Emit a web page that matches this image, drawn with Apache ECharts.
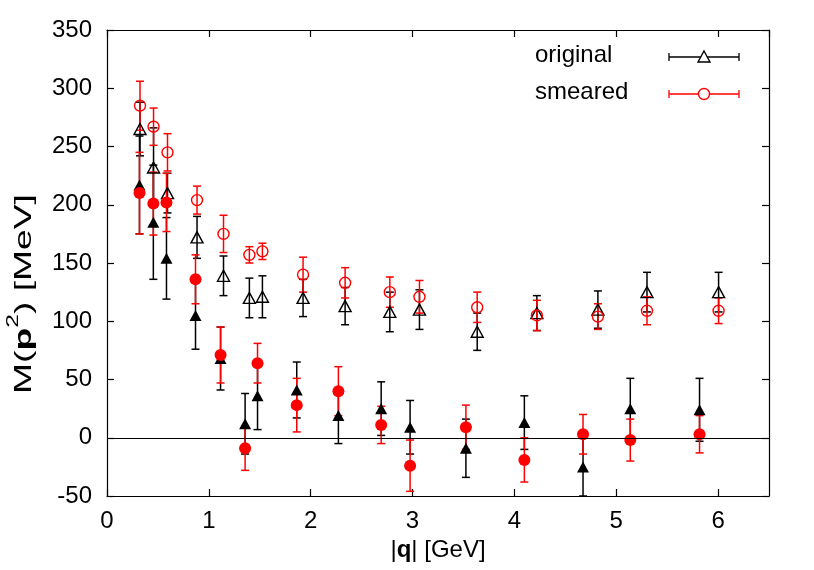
<!DOCTYPE html>
<html>
<head>
<meta charset="utf-8">
<script src="https://cdn.jsdelivr.net/npm/echarts@6/dist/echarts.min.js"></script>
<style>html,body{margin:0;padding:0;background:#fff}#c{width:814px;height:570px}</style>
</head>
<body>
<div id="c"></div>
<script>
// |q| positions (GeV)
const qOpen   = [0.324, 0.457, 0.594, 0.884, 1.144, 1.398, 1.526, 1.925, 2.338, 2.777, 3.068, 3.635, 4.221, 4.820, 5.302, 6.005];
const qFilled = [0.319, 0.455, 0.584, 0.869, 1.115, 1.356, 1.478, 1.863, 2.272, 2.692, 2.976, 3.524, 4.098, 4.674, 5.138, 5.818];
// original (black triangles)
const originalOpen      = [265, 232, 210, 172, 139, 120, 121, 120, 113, 108, 110, 91, 107, 110, 125, 125];
const originalOpenErr   = [23, 34, 17, 18, 17, 17, 18, 16, 16, 17, 17, 16, 15, 16, 17, 17];
const originalFilled    = [217, 185, 154, 105, 68, 12, 36, 41, 19, 25, 9, -9, 13, -25, 25, 24];
const originalFilledErr = [42, 49, 35, 29, 27, 26, 29, 24, 24, 23, 23, 25, 23, 25, 26, 27];
// smeared (red circles)
const smearedOpen      = [285, 267, 245, 204, 175, 157, 160, 140, 133, 125, 121, 112, 105, 104, 109, 109];
const smearedOpenErr   = [21, 16, 16, 12, 16, 7, 7, 15, 13, 13, 14, 13, 13, 11, 12, 11];
const smearedFilled    = [210, 201, 202, 136, 71, -9, 64, 28, 40, 11, -24, 9, -19, 3, -2, 3];
const smearedFilledErr = [35, 27, 25, 21, 24, 19, 17, 23, 21, 16, 22, 19, 19, 17, 18, 16];
// axes
const xTicks = [0, 1, 2, 3, 4, 5, 6];
const yTicks = [-50, 0, 50, 100, 150, 200, 250, 300, 350];
const legendNames = ['original', 'smeared'];

const BLACK = '#000000', RED = '#ff0000';
const FONT = 'Liberation Sans, Arial, Helvetica, sans-serif';

function zip3(q, v, e) { return q.map((x, i) => [x, v[i], e[i]]); }

function errRender(color) {
  return function (params, api) {
    const x = api.value(0), y = api.value(1), e = api.value(2);
    const pt = api.coord([x, y + e]);
    const pb = api.coord([x, y - e]);
    const w = 4;
    const st = { stroke: color, lineWidth: 1.5 };
    return {
      type: 'group',
      children: [
        { type: 'line', shape: { x1: pt[0], y1: pt[1], x2: pb[0], y2: pb[1] }, style: st },
        { type: 'line', shape: { x1: pt[0] - w, y1: pt[1], x2: pt[0] + w, y2: pt[1] }, style: st },
        { type: 'line', shape: { x1: pb[0] - w, y1: pb[1], x2: pb[0] + w, y2: pb[1] }, style: st }
      ]
    };
  };
}

function errSeries(name, q, v, e, color) {
  return {
    type: 'custom', name: name, renderItem: errRender(color), clip: true,
    data: zip3(q, v, e), encode: { x: 0, y: 1 }, silent: true
  };
}
function symSeries(name, q, v, symbol, size, color, open) {
  return {
    type: 'scatter', name: name, symbol: symbol, symbolSize: size,
    data: q.map((x, i) => [x, v[i]]), silent: true,
    itemStyle: open ? { color: 'rgba(0,0,0,0)', borderColor: color, borderWidth: 1.4, opacity: 1 }
                    : { color: color, borderWidth: 0, opacity: 1 }
  };
}

const axisCommon = {
  axisLine: { onZero: false, lineStyle: { color: BLACK, width: 1.2 } },
  axisTick: { inside: true, length: 7, lineStyle: { color: BLACK, width: 1.2 } },
  splitLine: { show: false }
};

const chart = echarts.init(document.getElementById('c'), null, { renderer: 'canvas' });
const legendY = [57, 94];
chart.setOption({
  animation: false,
  backgroundColor: '#ffffff',
  textStyle: { fontFamily: FONT },
  grid: { left: 107, right: 45, top: 30, bottom: 74 },
  xAxis: [
    Object.assign({}, axisCommon, {
      type: 'value', position: 'bottom', min: 0, max: 6.5, interval: 1,
      axisLabel: { fontSize: 24, color: BLACK, margin: 13, fontFamily: FONT, showMaxLabel: false,
                   formatter: v => (xTicks.indexOf(v) >= 0 ? String(v) : '') },
      name: '|{b|q}| [GeV]', nameLocation: 'middle', nameGap: 40,
      nameTextStyle: { fontSize: 24, color: BLACK, fontFamily: FONT,
        rich: { b: { fontSize: 24, fontWeight: 'bold', color: BLACK, fontFamily: FONT } } }
    }),
    Object.assign({}, axisCommon, {
      type: 'value', position: 'top', min: 0, max: 6.5, interval: 1,
      axisLabel: { show: false }
    })
  ],
  yAxis: [
    Object.assign({}, axisCommon, {
      type: 'value', position: 'left', min: -50, max: 350, interval: 50,
      axisLabel: { fontSize: 24, color: BLACK, margin: 15, fontFamily: FONT,
                   formatter: v => (yTicks.indexOf(v) >= 0 ? String(v) : '') }
    }),
    Object.assign({}, axisCommon, {
      type: 'value', position: 'right', min: -50, max: 350, interval: 50,
      axisLabel: { show: false }
    })
  ],
  series: [
    Object.assign(errSeries('original', qOpen, originalOpen, originalOpenErr, BLACK), {
      markLine: { silent: true, symbol: ['none', 'none'], label: { show: false },
        lineStyle: { color: BLACK, width: 1.2, type: 'solid' }, data: [{ yAxis: 0 }] }
    }),
    symSeries('original', qOpen, originalOpen, 'triangle', [12, 11], BLACK, true),
    errSeries('original filled', qFilled, originalFilled, originalFilledErr, BLACK),
    symSeries('original filled', qFilled, originalFilled, 'triangle', [12, 11], BLACK, false),
    errSeries('smeared', qOpen, smearedOpen, smearedOpenErr, RED),
    symSeries('smeared', qOpen, smearedOpen, 'circle', 11, RED, true),
    errSeries('smeared filled', qFilled, smearedFilled, smearedFilledErr, RED),
    symSeries('smeared filled', qFilled, smearedFilled, 'circle', 12, RED, false)
  ],
  graphic: [
    { type: 'text', x: 21, y: 294, rotation: Math.PI / 2, scaleX: 1.55, scaleY: 1,
      style: { text: '{n|M(}{b|p}{s|2}{n|) [MeV]}', align: 'center', verticalAlign: 'middle', fill: BLACK,
        rich: {
          n: { fontSize: 24, lineHeight: 30, fill: BLACK, fontFamily: FONT, verticalAlign: 'bottom' },
          b: { fontSize: 24, lineHeight: 30, fontWeight: 'bold', fill: BLACK, fontFamily: FONT, verticalAlign: 'bottom' },
          s: { fontSize: 16, lineHeight: 16, fill: BLACK, fontFamily: FONT, verticalAlign: 'top' }
        } } },
    { type: 'text', left: 535, top: legendY[0] - 14, style: { text: legendNames[0], fontSize: 24, fontFamily: FONT, fill: BLACK } },
    { type: 'text', left: 535, top: legendY[1] - 14, style: { text: legendNames[1], fontSize: 24, fontFamily: FONT, fill: BLACK } },
    { type: 'line', shape: { x1: 669, y1: legendY[0], x2: 739, y2: legendY[0] }, style: { stroke: BLACK, lineWidth: 1.3 } },
    { type: 'line', shape: { x1: 669, y1: legendY[0] - 4, x2: 669, y2: legendY[0] + 4 }, style: { stroke: BLACK, lineWidth: 1.3 } },
    { type: 'line', shape: { x1: 739, y1: legendY[0] - 4, x2: 739, y2: legendY[0] + 4 }, style: { stroke: BLACK, lineWidth: 1.3 } },
    { type: 'polygon', shape: { points: [[704, legendY[0] - 6], [710, legendY[0] + 5], [698, legendY[0] + 5]] }, style: { fill: '#fff', stroke: BLACK, lineWidth: 1.4 } },
    { type: 'line', shape: { x1: 669, y1: legendY[1], x2: 739, y2: legendY[1] }, style: { stroke: RED, lineWidth: 1.3 } },
    { type: 'line', shape: { x1: 669, y1: legendY[1] - 4, x2: 669, y2: legendY[1] + 4 }, style: { stroke: RED, lineWidth: 1.3 } },
    { type: 'line', shape: { x1: 739, y1: legendY[1] - 4, x2: 739, y2: legendY[1] + 4 }, style: { stroke: RED, lineWidth: 1.3 } },
    { type: 'circle', shape: { cx: 704, cy: legendY[1], r: 5.5 }, style: { fill: '#fff', stroke: RED, lineWidth: 1.4 } }
  ]
});
</script>
</body>
</html>
